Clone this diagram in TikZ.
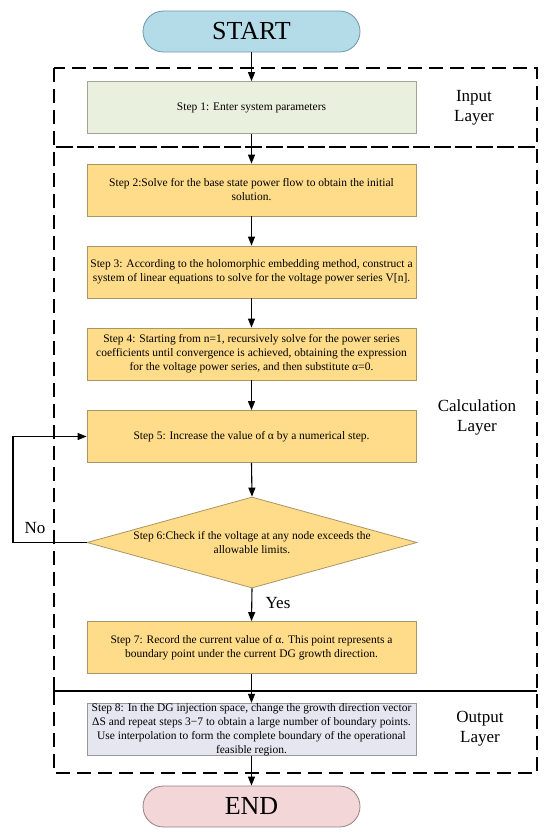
\documentclass[tikz,border=0pt]{standalone}
\usepackage{fontspec}
\setmainfont{Liberation Serif}
\usetikzlibrary{shapes.geometric,arrows.meta}
\definecolor{startfill}{RGB}{180,220,232}
\definecolor{startdraw}{RGB}{110,150,165}
\definecolor{endfill}{RGB}{242,214,216}
\definecolor{enddraw}{RGB}{150,128,128}
\definecolor{inputfill}{RGB}{233,240,222}
\definecolor{inputdraw}{RGB}{160,165,150}
\definecolor{stepfill}{RGB}{254,220,138}
\definecolor{stepdraw}{RGB}{170,150,100}
\definecolor{outfill}{RGB}{230,230,240}
\definecolor{outdraw}{RGB}{150,150,155}
\tikzset{
  terminal/.style={rounded corners=20.5pt, minimum width=217pt, minimum height=41pt, inner sep=0pt, line width=0.8pt, font=\fontsize{26}{28}\selectfont},
  stepbox/.style={rectangle, minimum width=329pt, minimum height=52pt, inner sep=0pt, align=center, fill=stepfill, draw=stepdraw, line width=0.8pt, font=\fontsize{11.5}{14}\selectfont},
  layerlbl/.style={align=center, font=\fontsize{17}{20}\selectfont},
  layerbox/.style={dash pattern=on 14pt off 7pt, line width=1.1pt},
  flow/.style={-{Triangle[width=7pt,length=9pt]}, line width=1.1pt},
}
\begin{document}
\begin{tikzpicture}[x=1pt,y=-1pt]
\useasboundingbox (0,0) rectangle (550,837);
% layer frames
\draw[layerbox] (54,68) rectangle (537,147);
\draw[layerbox] (54,691) -- (54,147) -- (537,147) -- (537,691);
\draw[line width=1.1pt] (54,691) -- (537,691);
\draw[layerbox] (54,691) -- (54,773) -- (537,773) -- (537,691);
% nodes
\node[terminal, fill=startfill, draw=startdraw] (start) at (251.5,31.5) {START};
\node[stepbox, fill=inputfill, draw=inputdraw] (s1) at (251.5,107.5) {Step 1: Enter system parameters};
\node[stepbox] (s2) at (251.5,190) {Step 2:Solve for the base state power flow to obtain the initial\\solution.};
\node[stepbox] (s3) at (251.5,272) {Step 3: According to the holomorphic embedding method, construct a\\system of linear equations to solve for the voltage power series V[n].};
\node[stepbox] (s4) at (251.5,354) {Step 4: Starting from n=1, recursively solve for the power series\\coefficients until convergence is achieved, obtaining the expression\\for the voltage power series, and then substitute α=0.};
\node[stepbox] (s5) at (251.5,436.5) {Step 5: Increase the value of α by a numerical step.};
\node[diamond, minimum width=330pt, minimum height=91pt, inner sep=0pt, fill=stepfill, draw=stepdraw, line width=0.8pt] (s6) at (252,542.5) {};
\node[align=center, font=\fontsize{11.5}{14}\selectfont] (s6t) at (s6.center) {Step 6:Check if the voltage at any node exceeds the\\allowable limits.};
\node[stepbox] (s7) at (251.5,647.5) {Step 7: Record the current value of α. This point represents a\\boundary point under the current DG growth direction.};
\node[stepbox, fill=outfill, draw=outdraw] (s8) at (251.5,729.5) {Step 8: In the DG injection space, change the growth direction vector\\ΔS and repeat steps 3−7 to obtain a large number of boundary points.\\Use interpolation to form the complete boundary of the operational\\feasible region.};
\node[terminal, fill=endfill, draw=enddraw] (end) at (251.5,806.5) {END};
% layer labels
\node[layerlbl] (linput) at (474,108) {Input\\Layer};
\node[layerlbl] (lcalc) at (477,417) {Calculation\\Layer};
\node[layerlbl] (lout) at (480,729) {Output\\Layer};
% connectors
\draw[flow] (start) -- (s1);
\draw[flow] (s1) -- (s2);
\draw[flow] (s2) -- (s3);
\draw[flow] (s3) -- (s4);
\draw[flow] (s4) -- (s5);
\draw[flow] (s5.south) -- (s6.north);
\draw[flow] (s6.south) -- node[pos=0.45, right=10pt, font=\fontsize{17}{20}\selectfont] (yes) {Yes} (s7.north);
\draw[flow] (s7) -- (s8);
\draw[flow] (s8) -- (end);
\coordinate (lp1) at (13,542.5);
\coordinate (lp2) at (13,436.5);
\draw[flow] (s6.west) -- (lp1) -- (lp2) -- (s5.west);
\node[font=\fontsize{17}{20}\selectfont] (no) at (35,528) {No};
\end{tikzpicture}
\end{document}
